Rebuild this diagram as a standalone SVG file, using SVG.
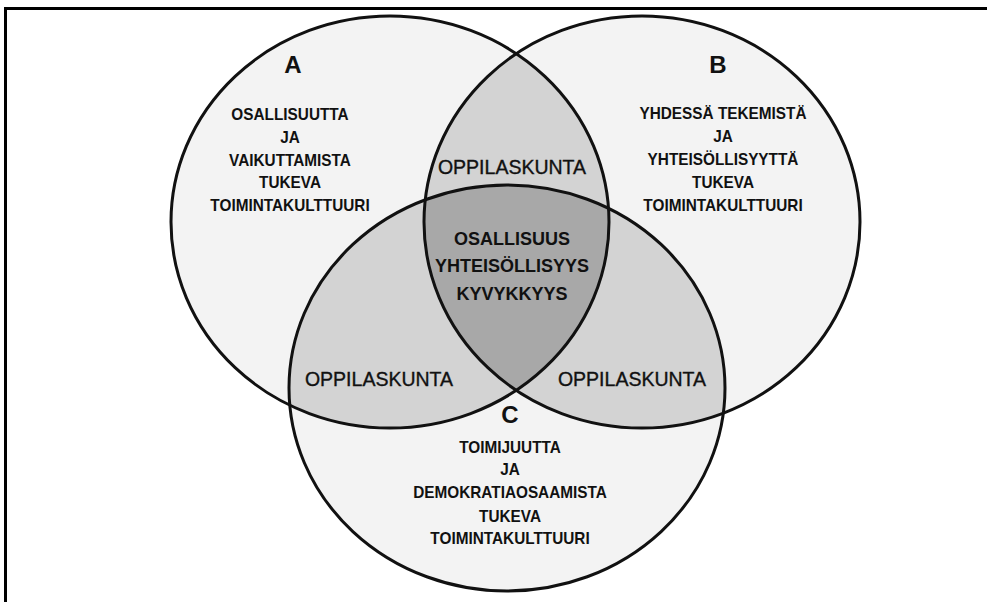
<svg xmlns="http://www.w3.org/2000/svg" width="987" height="602" viewBox="0 0 987 602">
<style>
.bg{fill:#ffffff}
.frame{fill:none;stroke:#000;stroke-width:3}
.base{fill:#f3f3f3}
.pair{fill:#d3d3d3}
.tri{fill:#a8a8a8}
.ring{fill:none;stroke:#111;stroke-width:3}
text{font-family:"Liberation Sans",Arial,sans-serif;fill:#111;text-anchor:middle}
.big{font-size:24px;font-weight:bold}
.body{font-size:16.5px;font-weight:bold}
.opp{font-size:19.5px;stroke:#111;stroke-width:0.35}
.core{font-size:18px;font-weight:bold}
</style>
<defs>
<clipPath id="clipA"><ellipse cx="390" cy="222" rx="219" ry="206"/></clipPath>
<clipPath id="clipB"><ellipse cx="642" cy="222" rx="218" ry="206"/></clipPath>
<clipPath id="clipC"><ellipse cx="507" cy="388" rx="218" ry="203"/></clipPath>
</defs>
<rect class="bg" x="0" y="0" width="987" height="602"/>
<rect class="frame" x="5.5" y="8.5" width="1000" height="620"/>
<g id="fills">
<ellipse class="base" cx="390" cy="222" rx="219" ry="206"/>
<ellipse class="base" cx="642" cy="222" rx="218" ry="206"/>
<ellipse class="base" cx="507" cy="388" rx="218" ry="203"/>
<g clip-path="url(#clipA)"><ellipse class="pair" cx="642" cy="222" rx="218" ry="206"/><ellipse class="pair" cx="507" cy="388" rx="218" ry="203"/></g>
<g clip-path="url(#clipB)"><ellipse class="pair" cx="507" cy="388" rx="218" ry="203"/></g>
<g clip-path="url(#clipA)"><g clip-path="url(#clipB)"><ellipse class="tri" cx="507" cy="388" rx="218" ry="203"/></g></g>
</g>
<g id="circleA">
<ellipse class="ring" cx="390" cy="222" rx="219" ry="206"/>
<text class="big" x="293" y="73">A</text>
<g transform="translate(290 0) scale(0.93 1)">
<text class="body" x="0" y="120">OSALLISUUTTA</text>
<text class="body" x="0" y="143">JA</text>
<text class="body" x="0" y="166">VAIKUTTAMISTA</text>
<text class="body" x="0" y="188">TUKEVA</text>
<text class="body" x="0" y="211">TOIMINTAKULTTUURI</text>
</g>
</g>
<g id="circleB">
<ellipse class="ring" cx="642" cy="222" rx="218" ry="206"/>
<text class="big" x="718" y="73">B</text>
<g transform="translate(723 0) scale(0.93 1)">
<text class="body" x="0" y="119">YHDESSÄ TEKEMISTÄ</text>
<text class="body" x="0" y="142">JA</text>
<text class="body" x="0" y="165">YHTEISÖLLISYYTTÄ</text>
<text class="body" x="0" y="188">TUKEVA</text>
<text class="body" x="0" y="211">TOIMINTAKULTTUURI</text>
</g>
</g>
<g id="circleC">
<ellipse class="ring" cx="507" cy="388" rx="218" ry="203"/>
<text class="big" x="510" y="423">C</text>
<g transform="translate(510 0) scale(0.93 1)">
<text class="body" x="0" y="453">TOIMIJUUTTA</text>
<text class="body" x="0" y="475">JA</text>
<text class="body" x="0" y="498">DEMOKRATIAOSAAMISTA</text>
<text class="body" x="0" y="522">TUKEVA</text>
<text class="body" x="0" y="544">TOIMINTAKULTTUURI</text>
</g>
</g>
<g id="overlapAB"><text class="opp" x="512" y="174">OPPILASKUNTA</text></g>
<g id="overlapAC"><text class="opp" x="379" y="386">OPPILASKUNTA</text></g>
<g id="overlapBC"><text class="opp" x="632" y="386">OPPILASKUNTA</text></g>
<g id="core">
<text class="core" x="512" y="245">OSALLISUUS</text>
<text class="core" x="512" y="272">YHTEISÖLLISYYS</text>
<text class="core" x="512" y="300">KYVYKKYYS</text>
</g>
<g id="connectors"/>
</svg>
